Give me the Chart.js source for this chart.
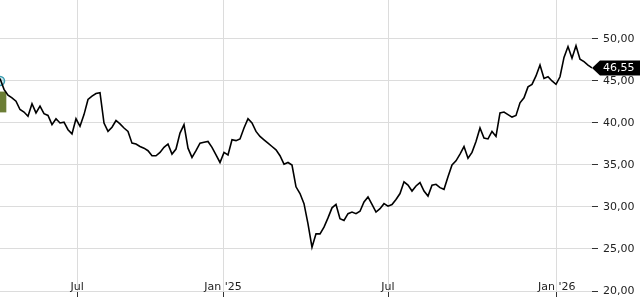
<!DOCTYPE html>
<html>
<head>
<meta charset="utf-8">
<script src="https://cdn.jsdelivr.net/npm/chart.js@4.4.1/dist/chart.umd.min.js"></script>
<style>
  body { margin: 0; background: #fff; }
  #wrap { width: 640px; height: 300px; }
</style>
</head>
<body>
<div id="wrap"><canvas id="price_chart" width="640" height="300"></canvas></div>
<script>
// closing prices, one sample every few trading days
const prices = [
    45.3, 44.0, 43.3, 43.0, 42.6, 41.6, 41.3, 40.8, 42.3, 41.2,
    42.0, 41.1, 40.9, 39.8, 40.5, 40.0, 40.1, 39.2, 38.7, 40.5,
    39.6, 41.0, 42.8, 43.2, 43.5, 43.6, 40.0, 39.0, 39.5, 40.3,
    39.9, 39.4, 39.0, 37.6, 37.5, 37.2, 37.0, 36.7, 36.1, 36.1,
    36.5, 37.1, 37.5, 36.3, 36.9, 38.8, 39.8, 37.0, 35.9, 36.7,
    37.6, 37.7, 37.8, 37.1, 36.2, 35.3, 36.5, 36.2, 38.0, 37.9,
    38.1, 39.4, 40.5, 40.0, 39.0, 38.4, 38.0, 37.6, 37.2, 36.8,
    36.1, 35.1, 35.3, 35.0, 32.4, 31.6, 30.4, 28.0, 25.2, 26.8,
    26.8, 27.6, 28.7, 29.9, 30.3, 28.6, 28.4, 29.2, 29.4, 29.2,
    29.5, 30.6, 31.2, 30.3, 29.4, 29.8, 30.4, 30.1, 30.3, 30.9,
    31.6, 33.0, 32.6, 31.9, 32.5, 32.9, 31.9, 31.3, 32.6, 32.7,
    32.3, 32.1, 33.6, 35.0, 35.5, 36.3, 37.2, 35.8, 36.5, 37.8,
    39.4, 38.2, 38.1, 39.0, 38.4, 41.2, 41.3, 41.0, 40.7, 40.9,
    42.4, 43.0, 44.3, 44.6, 45.6, 46.9, 45.3, 45.5, 45.0, 44.6,
    45.5, 47.8, 49.1, 47.7, 49.2, 47.6, 47.3, 46.9, 46.55
];

// month labels and the sample index where each one falls
const xTickLabels = ["Jul", "Jan '25", "Jul", "Jan '26"];
const xTickPos = [19.3, 55.75, 97, 139.2];

const yTicks = [20, 25, 30, 35, 40, 45, 50];

// event markers at the start of the series
const eventBar = [41.3, 43.7];
const eventDot = 45.0;

const fmt = v => v.toFixed(2).replace(".", ",");

// black price tag for the last close
const lastPriceTag = {
    id: "lastPriceTag",
    afterDatasetsDraw(chart) {
        const ctx = chart.ctx;
        const last = prices[prices.length - 1];
        const y = chart.scales.y.getPixelForValue(last);
        const x = chart.chartArea.right;
        ctx.save();
        ctx.fillStyle = "#000";
        ctx.beginPath();
        ctx.moveTo(x, y);
        ctx.lineTo(x + 8, y - 7.5);
        ctx.lineTo(640, y - 7.5);
        ctx.lineTo(640, y + 7.5);
        ctx.lineTo(x + 8, y + 7.5);
        ctx.closePath();
        ctx.fill();
        ctx.fillStyle = "#fff";
        ctx.font = "11px 'DejaVu Sans'";
        ctx.textBaseline = "middle";
        ctx.fillText(fmt(last), x + 11, y + 0.5);
        ctx.restore();
    }
};

const noPad = s => { s.paddingTop = 0; s.paddingBottom = 0; s.paddingLeft = 0; s.paddingRight = 0; };

const ctx = document.getElementById("price_chart").getContext("2d");
const myChart = new Chart(ctx, {
    type: "line",
    data: {
        datasets: [
            {
                data: prices.map((v, i) => ({ x: i, y: v })),
                borderColor: "#000",
                borderWidth: 1.6,
                pointRadius: 0,
                tension: 0,
            },
            {
                type: "bar",
                data: [{ x: 0, y: eventBar }],
                backgroundColor: "#6b7d35",
                barThickness: 12,
            },
            {
                data: [{ x: 0, y: eventDot }],
                showLine: false,
                pointRadius: 4.5,
                pointBorderWidth: 1.5,
                pointBorderColor: "#3b9cb0",
                pointBackgroundColor: "rgba(120, 200, 215, 0.35)",
            },
        ],
    },
    options: {
        responsive: false,
        animation: false,
        devicePixelRatio: 1,
        layout: { padding: 0, autoPadding: false },
        plugins: {
            legend: { display: false },
            tooltip: { enabled: false },
        },
        scales: {
            x: {
                type: "linear",
                min: 0,
                max: 148,
                offset: false,
                afterBuildTicks: s => { s.ticks = xTickPos.map(v => ({ value: v })); },
                afterFit: s => { s.height = 9; noPad(s); },
                border: { display: false },
                grid: { offset: false, color: "#dcdcdc", tickColor: "#333", tickLength: 6 },
                ticks: {
                    callback: (v, i) => xTickLabels[i],
                    autoSkip: false,
                    maxRotation: 0,
                    mirror: true, // keeps the labels inside the plot, unclipped
                    padding: -2.5,
                    color: "#222",
                    font: { family: "DejaVu Sans", size: 11 },
                },
            },
            y: {
                position: "right",
                min: 20,
                max: 54.64,
                afterBuildTicks: s => { s.ticks = yTicks.map(v => ({ value: v })); },
                afterFit: s => { s.width = 48; noPad(s); },
                border: { display: false },
                grid: { color: "#dcdcdc", tickColor: "#333", tickLength: 6 },
                ticks: {
                    callback: v => fmt(v),
                    padding: 5,
                    color: "#222",
                    font: { family: "DejaVu Sans", size: 11 },
                },
            },
        },
    },
    plugins: [lastPriceTag],
});
</script>
</body>
</html>
